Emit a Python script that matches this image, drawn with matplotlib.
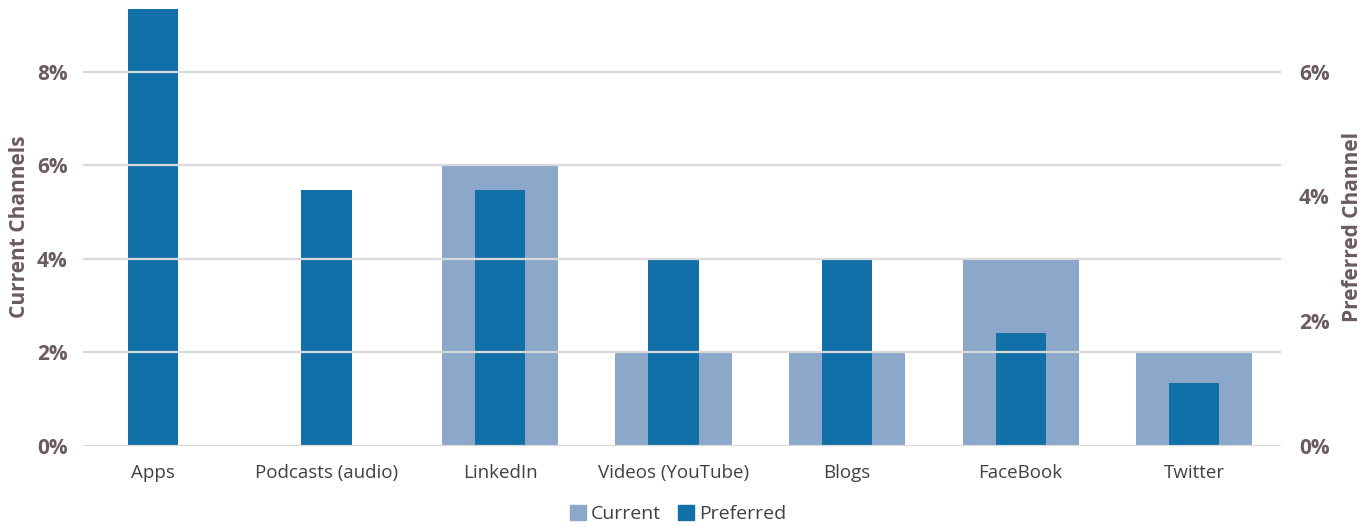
import matplotlib
matplotlib.use("Agg")
import matplotlib.pyplot as plt
import numpy as np
from matplotlib.ticker import FuncFormatter

plt.rcParams['font.family'] = ['Open Sans', 'DejaVu Sans']

categories = ["Apps", "Podcasts (audio)", "LinkedIn", "Videos (YouTube)", "Blogs", "FaceBook", "Twitter"]
current = [0.0, 0.0, 6.0, 2.0, 2.0, 4.0, 2.0]          # % on the left axis
preferred = [7.0, 4.1, 4.1, 3.0, 3.0, 1.8, 1.0]        # % on the right axis
left_ticks = [0, 2, 4, 6, 8]
right_ticks = [0, 2, 4, 6]

c_current = "#8BA7CA"
c_pref = "#1170A8"
c_axis_text = "#6B5A5E"
c_cat_text = "#404040"
c_grid = "#D9D9D9"

fig = plt.figure(figsize=(13.7, 5.26), dpi=100)
ax = fig.add_axes([83/1370, 80.5/526, 1198/1370, 436.5/526])
ax2 = ax.twinx()

x = np.arange(len(categories))
ax.bar(x, current, width=0.67, color=c_current, zorder=2, label="Current")
ax2.bar(x, preferred, width=0.29, color=c_pref, zorder=2, label="Preferred")

ymax = 9.34
ax.set_ylim(0, ymax)
ax2.set_ylim(0, ymax * 0.75)
ax.set_xlim(-0.403, 6.5)

# gridlines drawn above the bars, following the left axis
for t in left_ticks:
    ax2.axhline(t * 0.75, color=c_grid, lw=1.6, zorder=5)

pct = FuncFormatter(lambda v, p: f"{v:.0f}%")
ax.set_yticks(left_ticks)
ax.yaxis.set_major_formatter(pct)
ax2.set_yticks(right_ticks)
ax2.yaxis.set_major_formatter(pct)

for a in (ax, ax2):
    for s in a.spines.values():
        s.set_visible(False)
    a.tick_params(axis='y', length=0, labelsize=15, labelcolor=c_axis_text)
    for lbl in a.get_yticklabels():
        lbl.set_fontweight('bold')
ax.tick_params(axis='y', pad=11)
ax2.tick_params(axis='y', pad=13)

ax.set_xticks(x)
ax.set_xticklabels(categories)
ax.tick_params(axis='x', length=0, labelsize=13.5, labelcolor=c_cat_text, pad=13.5)

ax.set_ylabel("Current Channels", fontsize=15, fontweight='bold', color=c_axis_text, labelpad=5)
ax2.set_ylabel("Preferred Channel", fontsize=15, fontweight='bold', color=c_axis_text, labelpad=9)

handles = [plt.Rectangle((0, 0), 1, 1, color=c_current), plt.Rectangle((0, 0), 1, 1, color=c_pref)]
fig.legend(handles, ["Current", "Preferred"], loc='lower center', bbox_to_anchor=(0.495, -0.028),
           ncol=2, frameon=False, fontsize=14, handlelength=0.8, handleheight=0.8,
           handletextpad=0.25, columnspacing=0.9, labelcolor=c_cat_text)

fig.savefig("out.png", dpi=100)
